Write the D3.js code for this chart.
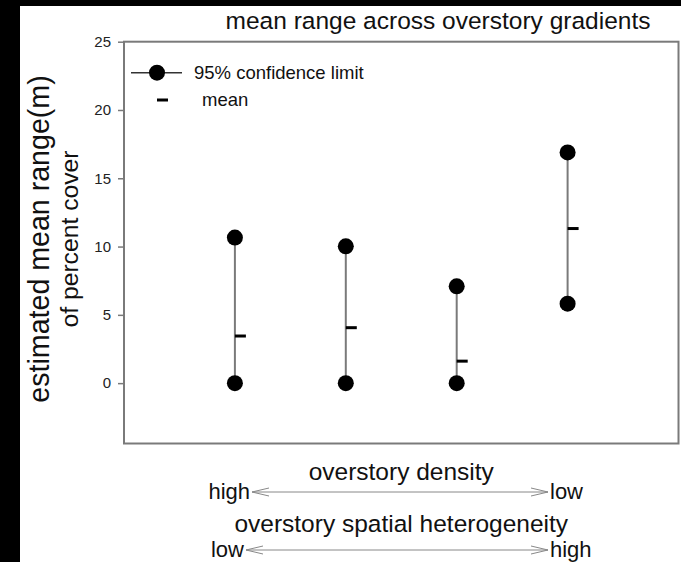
<!DOCTYPE html>
<html>
<head>
<meta charset="utf-8">
<script src="https://cdn.jsdelivr.net/npm/d3@7"></script>
<style>
  body { margin: 0; background: #fff; }
  svg { display: block; font-family: "Liberation Sans", Arial, sans-serif; }
</style>
</head>
<body>
<div id="chart"></div>
<script>
// values
var groups = [1, 2, 3, 4];
var upperLimit = [10.66, 10.02, 7.09, 16.89];
var lowerLimit = [0, 0, 0, 5.82];
var meanValue = [3.45, 4.06, 1.61, 11.32];
var yTicks = [0, 5, 10, 15, 20, 25];

var W = 681, H = 562;
var plot = { left: 124, right: 678.5, top: 41.7, bottom: 443.5 };

var svg = d3.select("#chart").append("svg")
    .attr("width", W).attr("height", H);

// black border strips of the scan
svg.append("rect").attr("x", 0).attr("y", 0).attr("width", W).attr("height", 6).attr("fill", "#000");
svg.append("rect").attr("x", 0).attr("y", 0).attr("width", 20).attr("height", H).attr("fill", "#000");

var x = d3.scaleLinear().domain([0, 5]).range([plot.left, plot.right]);
var y = d3.scaleLinear().domain([-4.42, 25]).range([plot.bottom, plot.top]);

// frame
svg.append("rect")
    .attr("x", plot.left).attr("y", plot.top)
    .attr("width", plot.right - plot.left).attr("height", plot.bottom - plot.top)
    .attr("fill", "none").attr("stroke", "#7a7a7a").attr("stroke-width", 2);

// y axis
var yAxis = svg.append("g")
    .attr("transform", "translate(" + plot.left + ",0)")
    .call(d3.axisLeft(y).tickValues(yTicks).tickSize(6).tickPadding(7));
yAxis.select(".domain").remove();
yAxis.selectAll(".tick line").attr("stroke", "#7a7a7a").attr("stroke-width", 1.5);
yAxis.selectAll(".tick text").attr("fill", "#222").style("font-size", "15px")
    .style("font-family", "'Liberation Sans', Arial, sans-serif");

// title
svg.append("text")
    .attr("x", 438).attr("y", 29)
    .attr("text-anchor", "middle").attr("fill", "#111")
    .style("font-size", "24.5px")
    .text("mean range across overstory gradients");

// y axis title
var yTitle = svg.append("text")
    .attr("transform", "translate(49,239) rotate(-90)")
    .attr("text-anchor", "middle").attr("fill", "#111");
yTitle.append("tspan").attr("x", 0).attr("y", 0).style("font-size", "28.6px")
    .text("estimated mean range(m)");
yTitle.append("tspan").attr("x", 0).attr("y", 29).style("font-size", "24.7px")
    .text("of percent cover");

// confidence bars
var idx = d3.range(groups.length);
svg.append("g").selectAll("line")
    .data(idx).enter().append("line")
    .attr("x1", function (i) { return x(groups[i]); })
    .attr("x2", function (i) { return x(groups[i]); })
    .attr("y1", function (i) { return y(lowerLimit[i]); })
    .attr("y2", function (i) { return y(upperLimit[i]); })
    .attr("stroke", "#7a7a7a").attr("stroke-width", 2);

var limits = [];
idx.forEach(function (i) {
    limits.push({ g: groups[i], v: upperLimit[i] });
    limits.push({ g: groups[i], v: lowerLimit[i] });
});
svg.append("g").selectAll("circle")
    .data(limits).enter().append("circle")
    .attr("cx", function (d) { return x(d.g); })
    .attr("cy", function (d) { return y(d.v); })
    .attr("r", 8).attr("fill", "#000");

svg.append("g").selectAll("line")
    .data(idx).enter().append("line")
    .attr("x1", function (i) { return x(groups[i]); })
    .attr("x2", function (i) { return x(groups[i]) + 11; })
    .attr("y1", function (i) { return y(meanValue[i]); })
    .attr("y2", function (i) { return y(meanValue[i]); })
    .attr("stroke", "#000").attr("stroke-width", 3);

// legend
var lg = svg.append("g");
lg.append("line").attr("x1", 131).attr("x2", 182).attr("y1", 72.7).attr("y2", 72.7)
    .attr("stroke", "#333").attr("stroke-width", 1.5);
lg.append("circle").attr("cx", 157).attr("cy", 72.7).attr("r", 8).attr("fill", "#000");
lg.append("text").attr("x", 194).attr("y", 79).attr("fill", "#111")
    .style("font-size", "18.5px").text("95% confidence limit");
lg.append("line").attr("x1", 157).attr("x2", 168).attr("y1", 100).attr("y2", 100)
    .attr("stroke", "#000").attr("stroke-width", 3);
lg.append("text").attr("x", 202).attr("y", 106).attr("fill", "#111")
    .style("font-size", "18.5px").text("mean");

// gradient annotations below the plot
function gradient(label, yLabel, left, right, yArrow, x1, x2) {
    var cx = (plot.left + plot.right) / 2;
    svg.append("text").attr("x", cx).attr("y", yLabel)
        .attr("text-anchor", "middle").attr("fill", "#111")
        .style("font-size", "24.5px").text(label);
    svg.append("line").attr("x1", x1).attr("x2", x2).attr("y1", yArrow).attr("y2", yArrow)
        .attr("stroke", "#888").attr("stroke-width", 1);
    svg.append("path")
        .attr("d", "M" + (x1 + 17) + "," + (yArrow - 4) + "L" + x1 + "," + yArrow + "L" + (x1 + 17) + "," + (yArrow + 4) +
            "M" + (x2 - 17) + "," + (yArrow - 4) + "L" + x2 + "," + yArrow + "L" + (x2 - 17) + "," + (yArrow + 4))
        .attr("fill", "none").attr("stroke", "#888").attr("stroke-width", 1);
    svg.append("text").attr("x", x1 - 2).attr("y", yArrow + 7)
        .attr("text-anchor", "end").attr("fill", "#111")
        .style("font-size", "22px").text(left);
    svg.append("text").attr("x", x2 + 2).attr("y", yArrow + 7)
        .attr("fill", "#111")
        .style("font-size", "22px").text(right);
}
gradient("overstory density", 480, "high", "low", 492, 252, 548);
gradient("overstory spatial heterogeneity", 532, "low", "high", 550, 246, 548);
</script>
</body>
</html>
